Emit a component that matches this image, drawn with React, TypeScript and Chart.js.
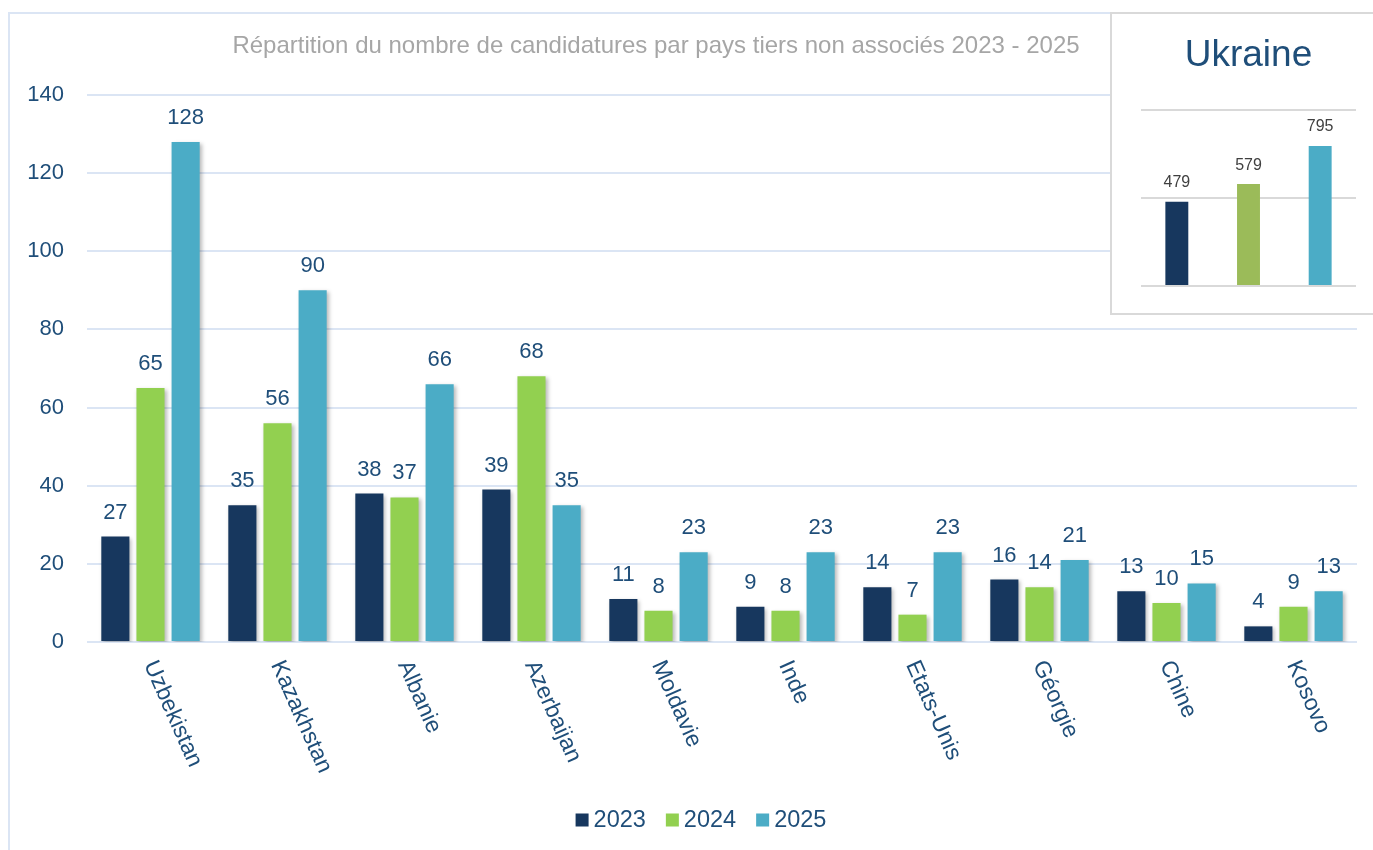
import React, { useEffect, useRef } from 'react';
import { Chart, registerables } from 'chart.js';
Chart.register(...registerables);

const categories = ['Uzbekistan', 'Kazakhstan', 'Albanie', 'Azerbaijan', 'Moldavie', 'Inde', 'Etats-Unis', 'Géorgie', 'Chine', 'Kosovo'];
const values2023 = [27, 35, 38, 39, 11, 9, 14, 16, 13, 4];
const values2024 = [65, 56, 37, 68, 8, 8, 7, 14, 10, 9];
const values2025 = [128, 90, 66, 35, 23, 23, 23, 21, 15, 13];
const seriesLabels = ['2023', '2024', '2025'];
const yMin = 0;
const yMax = 140;
const yStep = 20;
const ukraineValues = [479, 579, 795];
const ukraineMax = 1000;
const ukraineStep = 500;
const chartTitle = 'Répartition du nombre de candidatures par pays tiers non associés 2023 - 2025';
const insetTitle = 'Ukraine';

const FONT = "'Liberation Sans', Arial, sans-serif";
const BLUE_TEXT = '#1F4E79';
const mainColors = ['#17375E', '#92D050', '#4BACC6'];
const insetColors = ['#17375E', '#9BBB59', '#4BACC6'];
const GRID = '#dbe5f4';

const mainPlugin = {
  id: 'mainDeco',
  beforeDatasetsDraw(chart: any) {
    const ctx = chart.ctx;
    ctx.save();
    ctx.shadowColor = 'rgba(0,0,0,0.28)';
    ctx.shadowBlur = 4;
    ctx.shadowOffsetX = 2;
    ctx.shadowOffsetY = 2;
  },
  afterDatasetsDraw(chart: any) {
    const ctx = chart.ctx;
    ctx.restore();
    ctx.save();
    // data labels
    ctx.font = `22px ${FONT}`;
    ctx.fillStyle = BLUE_TEXT;
    ctx.textAlign = 'center';
    ctx.textBaseline = 'middle';
    chart.data.datasets.forEach((ds: any, di: number) => {
      const meta = chart.getDatasetMeta(di);
      meta.data.forEach((el: any, i: number) => {
        ctx.fillText(String(ds.data[i]), el.x, el.y - 24);
      });
    });
    // rotated category labels
    const xs = chart.scales.x;
    const area = chart.chartArea;
    ctx.font = `23px ${FONT}`;
    chart.data.labels.forEach((lab: string, i: number) => {
      const x = xs.getPixelForValue(i);
      ctx.save();
      ctx.translate(x - 1, area.bottom + 20);
      ctx.rotate((66 * Math.PI) / 180);
      ctx.textAlign = 'left';
      ctx.textBaseline = 'middle';
      ctx.fillText(lab, 0, 0);
      ctx.restore();
    });
    // title
    ctx.font = `24px ${FONT}`;
    ctx.fillStyle = '#a6a6a6';
    ctx.textAlign = 'center';
    ctx.fillText(chartTitle, 656, 46);
    // legend
    ctx.font = `23.5px ${FONT}`;
    const box = 13, gap = 5, spacing = 20;
    const widths = seriesLabels.map((s) => ctx.measureText(s).width);
    const total = widths.reduce((a, w) => a + box + gap + w, 0) + spacing * (seriesLabels.length - 1);
    let cx = 701 - total / 2;
    const ly = 820;
    seriesLabels.forEach((s, i) => {
      ctx.fillStyle = mainColors[i];
      ctx.fillRect(cx, ly - box / 2, box, box);
      cx += box + gap;
      ctx.fillStyle = BLUE_TEXT;
      ctx.textAlign = 'left';
      ctx.textBaseline = 'middle';
      ctx.fillText(s, cx, ly + 1);
      cx += widths[i] + spacing;
    });
    ctx.restore();
  },
};

const insetPlugin = {
  id: 'insetDeco',
  afterDatasetsDraw(chart: any) {
    const ctx = chart.ctx;
    const area = chart.chartArea;
    ctx.save();
    ctx.font = `16px ${FONT}`;
    ctx.fillStyle = '#404040';
    ctx.textAlign = 'center';
    ctx.textBaseline = 'middle';
    const ds = chart.data.datasets[0];
    chart.getDatasetMeta(0).data.forEach((el: any, i: number) => {
      ctx.fillText(String(ds.data[i]), el.x, el.y - 19);
    });
    ctx.font = `37px ${FONT}`;
    ctx.fillStyle = BLUE_TEXT;
    ctx.fillText(insetTitle, (area.left + area.right) / 2, 42);
    ctx.restore();
  },
};

function MainChart() {
  const ref = useRef<HTMLCanvasElement>(null);
  useEffect(() => {
    const chart = new Chart(ref.current as HTMLCanvasElement, {
      type: 'bar',
      data: {
        labels: categories,
        datasets: [values2023, values2024, values2025].map((d, i) => ({
          label: seriesLabels[i],
          data: d,
          backgroundColor: mainColors[i],
          barPercentage: 0.8,
          categoryPercentage: 0.83,
        })),
      },
      options: {
        responsive: false,
        animation: false,
        layout: { padding: { left: 20, right: 16, top: 95, bottom: 0 } },
        plugins: { legend: { display: false }, tooltip: { enabled: false }, title: { display: false } },
        scales: {
          x: {
            grid: { display: false },
            border: { display: false },
            ticks: { display: false },
            afterFit: (s: any) => { s.height = 208; },
          },
          y: {
            min: yMin,
            max: yMax,
            ticks: { stepSize: yStep, padding: 23, color: BLUE_TEXT, font: { size: 22, family: FONT } },
            grid: { color: GRID, lineWidth: 2, drawTicks: false },
            border: { display: false },
            afterFit: (s: any) => { s.width = 67; },
          },
        },
      },
      plugins: [mainPlugin],
    } as any);
    return () => chart.destroy();
  }, []);
  return <canvas ref={ref} width={1373} height={850} style={{ position: 'absolute', left: 0, top: 0, display: 'block' }} />;
}

function InsetChart() {
  const ref = useRef<HTMLCanvasElement>(null);
  useEffect(() => {
    const chart = new Chart(ref.current as HTMLCanvasElement, {
      type: 'bar',
      data: {
        labels: seriesLabels,
        datasets: [{
          label: insetTitle,
          data: ukraineValues,
          backgroundColor: insetColors,
          barPercentage: 0.32,
          categoryPercentage: 1,
        }],
      },
      options: {
        responsive: false,
        animation: false,
        layout: { padding: { left: 29, right: 17, top: 96, bottom: 27 } },
        plugins: { legend: { display: false }, tooltip: { enabled: false }, title: { display: false } },
        scales: {
          x: { display: false },
          y: {
            min: 0,
            max: ukraineMax,
            ticks: { stepSize: ukraineStep, display: false },
            grid: { color: '#d9d9d9', lineWidth: 2, drawTicks: false },
            border: { display: false },
            afterFit: (s: any) => { s.width = 0; },
          },
        },
      },
      plugins: [insetPlugin],
    } as any);
    return () => chart.destroy();
  }, []);
  return <canvas ref={ref} width={261} height={299} style={{ display: 'block' }} />;
}

export default function App() {
  return (
    <div style={{ position: 'fixed', left: 0, top: 0, width: 1373, height: 850, overflow: 'hidden', background: '#fff' }}>
      <div style={{ position: 'absolute', left: 8, top: 12, width: 1500, height: 1000, borderLeft: `2px solid ${GRID}`, borderTop: `2px solid ${GRID}` }} />
      <MainChart />
      <div style={{ position: 'absolute', left: 1110, top: 12, width: 261, height: 299, background: '#fff', borderLeft: '2px solid #d9d9d9', borderTop: '2px solid #d9d9d9', borderBottom: '2px solid #d9d9d9' }}>
        <InsetChart />
      </div>
    </div>
  );
}
